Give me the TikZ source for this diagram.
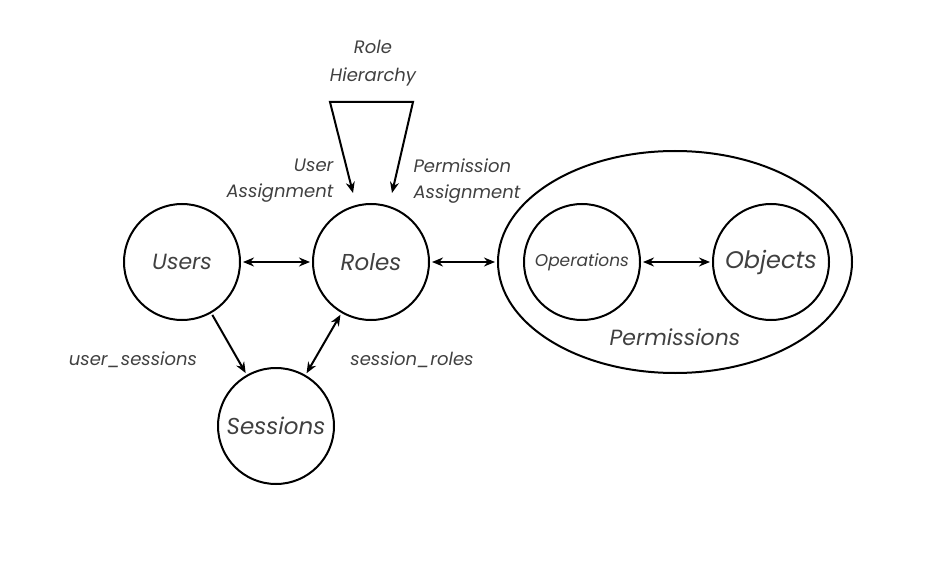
\documentclass[tikz,border=0pt]{standalone}
\usepackage{fontspec}
\setmainfont{Poppins}
\usetikzlibrary{arrows.meta,shapes.geometric}
\begin{document}
\begin{tikzpicture}[
    x=1pt, y=-1pt,
    entity/.style={draw, circle, line width=2pt, minimum size=116pt, inner sep=0pt,
                   font=\itshape\fontsize{23}{25}\selectfont, text=black!75},
    label/.style={font=\itshape\fontsize{18}{26}\selectfont, text=black!75, align=left},
    link/.style={line width=2pt, {Stealth[length=11pt,width=9pt]}-{Stealth[length=11pt,width=9pt]}, shorten >=2pt, shorten <=2pt},
    onelink/.style={line width=2pt, -{Stealth[length=11pt,width=9pt]}, shorten >=2pt, shorten <=2pt}]
    \useasboundingbox (0,0) rectangle (926,564);

    % Kreise
    \node[entity, font=\itshape\fontsize{22}{24}\selectfont] (users) at (182,262) {Users};
    \node[entity] (roles) at (371,262) {Roles};
    \node[entity] (sessions) at (276,426) {Sessions};
    \node[draw, ellipse, line width=2pt, minimum width=354pt, minimum height=222pt, inner sep=0pt] (perms) at (675,262) {};
    \node[entity, font=\itshape\fontsize{17}{19}\selectfont] (ops) at (582,262) {Operations};
    \node[entity, font=\itshape\fontsize{24}{26}\selectfont] (objects) at (771,262) {Objects};
    \node[label, font=\itshape\fontsize{22}{24}\selectfont] (permlabel) at (675,337) {Permissions};

    % Verbindungen
    \draw[link] (users) -- (roles);
    \draw[link] (roles) -- (perms);
    \draw[link] (ops) -- (objects);
    \draw[onelink] (users) -- (sessions);
    \draw[link] (sessions) -- (roles);

    % Hierarchie
    \coordinate (hierL) at (330,102);
    \coordinate (hierR) at (413,102);
    \coordinate (tipL) at (353,193);
    \coordinate (tipR) at (392,193);
    \draw[link, shorten >=0pt, shorten <=0pt] (tipL) -- (hierL) -- (hierR) -- (tipR);

    % Beschriftungen
    \node[label, align=center, font=\itshape\fontsize{18}{28}\selectfont] (hier) at (373,63) {Role\\Hierarchy};
    \node[label, align=right] (ua) at (280,181) {User\\Assignment};
    \node[label, anchor=west] (pa) at (410,181) {Permission\\Assignment};
    \node[label] (us) at (133,360) {user\_sessions};
    \node[label] (sr) at (412,360) {session\_roles};
\end{tikzpicture}
\end{document}
